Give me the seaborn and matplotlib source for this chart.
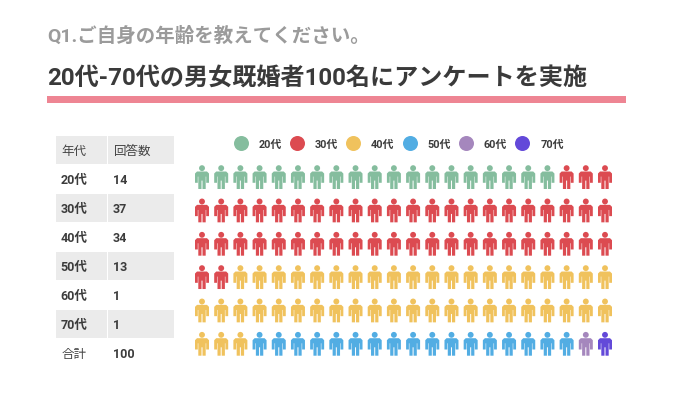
import numpy as np
import pandas as pd
import seaborn as sns
import matplotlib
matplotlib.use("Agg")
import matplotlib.pyplot as plt
from matplotlib.path import Path
from matplotlib.patches import Rectangle
from matplotlib.lines import Line2D

sns.set_theme(style="white")
FONT = ['Roboto', 'Noto Sans CJK JP', 'DejaVu Sans']
plt.rcParams['font.family'] = FONT

# --- data ---
subtitle = "Q1.ご自身の年齢を教えてください。"
title = "20代-70代の男女既婚者100名にアンケートを実施"
age_labels = ["20代", "30代", "40代", "50代", "60代", "70代"]
answer_counts = ["14", "37", "34", "13", "1", "1"]
icon_counts = [19, 49, 45, 17, 1, 1]
age_colors = ["#85bd9e", "#dc4b51", "#f0c25d", "#52ade3", "#a587bd", "#6349d9"]
table_header = ["年代", "回答数"]
total_row = ["合計", "100"]
icons_per_row = 22

W, H = 675, 402
fig = plt.figure(figsize=(W / 100, H / 100), dpi=100, facecolor="white")

# Overlay axes in pixel coordinates for text / table
bg = fig.add_axes([0, 0, 1, 1])
bg.set_xlim(0, W)
bg.set_ylim(H, 0)
bg.axis("off")

bg.text(47, 36, subtitle, fontsize=14, fontweight="bold", color="#9b9b9b", va="center", ha="left")
bg.text(47, 78.5, title, fontsize=17.37, fontweight="bold", color="#3a3a3a", va="center", ha="left")
bg.add_patch(Rectangle((47, 97), 579, 7, facecolor="#ee8593", edgecolor="none"))

# Table
row_h = 29
top = 136.5
col_x = [(55.5, 51.5), (107.8, 66.2)]
rows = [table_header] + [[a, c] for a, c in zip(age_labels, answer_counts)] + [total_row]
for i, row in enumerate(rows):
    y0 = top + i * row_h
    if i % 2 == 0 and i < len(rows) - 1:
        for x0, w in col_x:
            bg.add_patch(Rectangle((x0, y0), w, row_h - 0.8, facecolor="#ebebeb", edgecolor="none"))
    plain = i == 0
    for j, val in enumerate(row):
        is_plain = plain or (i == len(rows) - 1 and j == 0)
        bg.text(col_x[j][0] + (6 if is_plain else 5.3), y0 + row_h / 2 + 0.7, val, fontsize=9,
                fontweight="normal" if is_plain else "bold",
                color="#444444" if is_plain else "#3c3c3c", va="center", ha="left")

# Person marker (pixels, y up, centre of the icon at 0,0)
half = [(0.5, -11.9), (3.7, -11.9), (3.7, 0.5), (4.2, 0.5), (4.2, -5.7), (7.0, -5.7), (7.0, 3.6),
        (5.0, 5.6), (0, 5.6)]
verts = [(0.5, -3.5)] + half + [(-x, y) for x, y in reversed(half[:-1])] + [(-0.5, -3.5), (0.5, -3.5)]
codes = [Path.MOVETO] + [Path.LINETO] * (len(verts) - 2) + [Path.CLOSEPOLY]
body = Path(verts, codes)
head = Path.circle((0, 8.95), 2.95)
person = Path.make_compound_path(body, head)
icon_px = 2 * 11.9
icon_size = (icon_px * 0.72) ** 2

# Pictogram axes: column / row index coordinates
col_step = (605 - 202) / 21
row_step = (344.8 - 178.1) / 5
n_rows = int(np.ceil(sum(icon_counts) / icons_per_row))
left = 202 - col_step / 2
right = 605 + col_step / 2
upper = 178.1 - row_step / 2
lower = 344.8 + row_step / 2
ax = fig.add_axes([left / W, 1 - lower / H, (right - left) / W, (lower - upper) / H])
ax.patch.set_alpha(0)

ages = np.repeat(age_labels, icon_counts)
idx = np.arange(len(ages))
df = pd.DataFrame({"age": ages, "col": idx % icons_per_row, "row": idx // icons_per_row})
sns.scatterplot(data=df, x="col", y="row", hue="age", hue_order=age_labels, palette=age_colors,
                marker=person, s=icon_size, linewidth=0, legend=False, ax=ax, clip_on=False)
ax.set_xlim(-0.5, icons_per_row - 0.5)
ax.set_ylim(n_rows - 0.5, -0.5)
ax.axis("off")

# Legend
handles = [Line2D([], [], linestyle="none", marker="o", markersize=10.8, markerfacecolor=c,
                  markeredgecolor="none") for c in age_colors]
leg = bg.legend(handles, age_labels, ncol=6, frameon=False, loc="center left",
                bbox_to_anchor=(233 / W, 1 - 144.5 / H), bbox_transform=fig.transFigure,
                prop={"size": 7.8, "weight": "bold", "family": FONT},
                handlelength=1.4, handletextpad=0.95, columnspacing=0.7, borderpad=0, borderaxespad=0)
for t in leg.get_texts():
    t.set_color("#3c3c3c")

fig.savefig("out.png", dpi=100, facecolor="white")
